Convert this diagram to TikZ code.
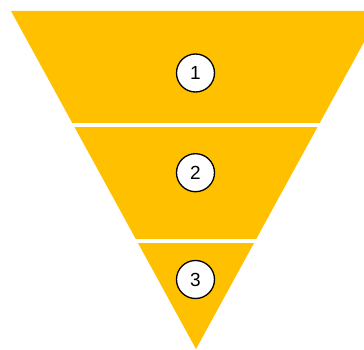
\documentclass[tikz,border=0pt]{standalone}
\usepackage{fontspec}
\setmainfont{Liberation Sans}
\definecolor{funnelgold}{HTML}{FFC000}
\tikzset{
  stage/.style={circle,draw=black,fill=white,line width=1.3pt,
    minimum size=38pt,inner sep=0pt,font=\fontsize{19}{19}\selectfont},
  gap/.style={white,line width=3.4pt}
}
\begin{document}
\begin{tikzpicture}[x=1pt,y=1pt]
  \useasboundingbox (0,0) rectangle (364,349);
  \clip (0,0) rectangle (364,349);
  % funnel, cut in three bands
  \fill[funnelgold] (11,338) -- (381,338) -- (196,0) -- cycle;
  \draw[gap] (0,224) -- (364,224);
  \draw[gap] (0,108.2) -- (364,108.2);
  \node[stage] (s1) at (195.5,276) {1};
  \node[stage] (s2) at (195.5,176.3) {2};
  \node[stage] (s3) at (195.5,69.5) {3};
\end{tikzpicture}
\end{document}
